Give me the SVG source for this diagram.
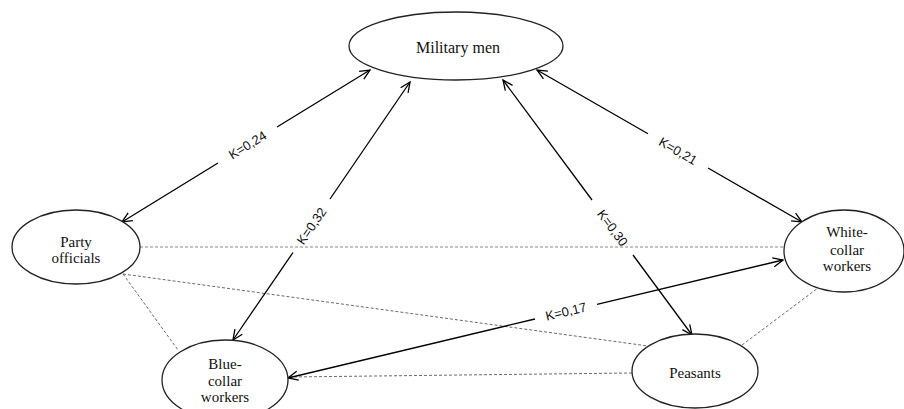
<svg xmlns="http://www.w3.org/2000/svg" width="904" height="409" viewBox="0 0 904 409">
<style>
.node{fill:#fff;stroke:#222;stroke-width:1.3}
.nt{font-family:"Liberation Serif","Times New Roman",serif;font-size:15px;fill:#111;text-anchor:middle}
.arr{fill:none;stroke:#000;stroke-width:1.3}
.d1{fill:none;stroke:#888;stroke-width:1.2;stroke-dasharray:3 2}
.d2{fill:none;stroke:#444;stroke-width:0.8;stroke-dasharray:3 2}
.lbl{font-family:"Liberation Sans",Arial,sans-serif;font-size:13px;fill:#111;text-anchor:middle;dominant-baseline:central}
</style>
<defs>
<marker id="ah" viewBox="-12 -6 13 12" refX="0" refY="0" markerWidth="13" markerHeight="12" markerUnits="userSpaceOnUse" orient="auto-start-reverse">
<path d="M-10,-4.5 L0,0 L-10,4.5" fill="none" stroke="#000" stroke-width="1.3"/>
</marker>
</defs>
<rect width="904" height="409" fill="#fff"/>
<g id="connectors">
<line class="d1" x1="140" y1="247" x2="784" y2="247"/>
<line class="d2" x1="123" y1="274" x2="648" y2="346"/>
<line class="d2" x1="123" y1="274" x2="178" y2="350"/>
<line class="d2" x1="632" y1="373" x2="290" y2="377"/>
<line class="d2" x1="742" y1="345" x2="822" y2="285"/>
<line class="arr" x1="122" y1="222" x2="218" y2="163" marker-start="url(#ah)"/>
<line class="arr" x1="277" y1="127" x2="370" y2="70" marker-end="url(#ah)"/>
<text class="lbl" transform="translate(247.5,145) rotate(-31.5)">K=0,24</text>
<line class="arr" x1="233" y1="340" x2="293" y2="252.5" marker-start="url(#ah)"/>
<line class="arr" x1="330" y1="199" x2="410" y2="82" marker-end="url(#ah)"/>
<text class="lbl" transform="translate(311.5,226) rotate(-55.5)">K=0,32</text>
<line class="arr" x1="503" y1="80" x2="592" y2="200" marker-start="url(#ah)"/>
<line class="arr" x1="633" y1="255" x2="692" y2="335" marker-end="url(#ah)"/>
<text class="lbl" transform="translate(612.5,228) rotate(53.5)">K=0,30</text>
<line class="arr" x1="537" y1="70" x2="648" y2="133.7" marker-start="url(#ah)"/>
<line class="arr" x1="708" y1="168" x2="802" y2="222" marker-end="url(#ah)"/>
<text class="lbl" transform="translate(678,151) rotate(29.8)">K=0,21</text>
<line class="arr" x1="288" y1="378" x2="535" y2="319" marker-start="url(#ah)"/>
<line class="arr" x1="597" y1="304.3" x2="783" y2="260" marker-end="url(#ah)"/>
<text class="lbl" transform="translate(566,311.5) rotate(-13.4)">K=0,17</text>
</g>
<g id="military">
<ellipse class="node" cx="456" cy="46" rx="107" ry="34"/>
<text class="nt" x="458" y="53" style="font-size:16px">Military men</text>
</g>
<g id="party">
<ellipse class="node" cx="76" cy="247" rx="64" ry="37"/>
<text class="nt" x="76" y="247">Party</text>
<text class="nt" x="76" y="263">officials</text>
</g>
<g id="white">
<ellipse class="node" cx="844" cy="251" rx="60" ry="41"/>
<text class="nt" x="847" y="237">White-</text>
<text class="nt" x="847" y="255">collar</text>
<text class="nt" x="847" y="271">workers</text>
</g>
<g id="blue">
<ellipse class="node" cx="225" cy="380" rx="63" ry="40"/>
<text class="nt" x="225" y="369">Blue-</text>
<text class="nt" x="225" y="386">collar</text>
<text class="nt" x="225" y="402">workers</text>
</g>
<g id="peasants">
<ellipse class="node" cx="695" cy="371" rx="63" ry="37"/>
<text class="nt" x="695" y="378">Peasants</text>
</g>
</svg>
